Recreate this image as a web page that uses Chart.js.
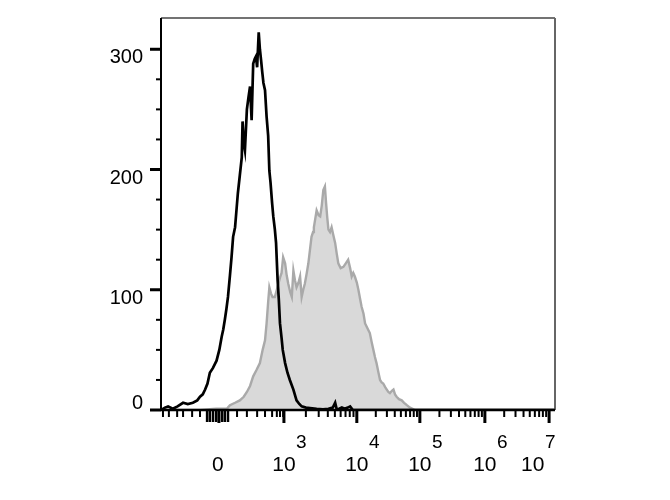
<!DOCTYPE html>
<html>
<head>
<meta charset="utf-8">
<script src="https://cdn.jsdelivr.net/npm/chart.js@4/dist/chart.umd.min.js"></script>
<style>
  body { margin: 0; background: #fff; }
  #wrap { width: 670px; height: 500px; }
</style>
</head>
<body>
<div id="wrap"><canvas id="histChart" width="670" height="500"></canvas></div>
<script>
// x is the display channel (0-1000) of the biexponential axis
const controlX = [0, 2, 10, 18, 30, 42, 56, 68, 81, 92, 99, 106, 112, 118, 124, 132, 141, 148, 154, 158, 162, 166, 170, 175, 179, 183, 188, 192, 195, 200, 205, 207, 210, 213, 218, 222, 226, 230, 234, 238, 241, 244, 248, 251, 254, 257, 260, 264, 268, 272, 275, 278, 282, 285, 289, 292, 296, 299, 302, 306, 309, 315, 321, 327, 336, 344, 351, 357, 368, 378, 395, 411, 425, 436, 442, 446, 452, 459, 466, 474, 480, 487, 520, 1000];
const controlY = [0, 0, 2, 3, 1, 3, 6, 5, 6, 8, 11, 13, 17, 22, 31, 35, 41, 50, 61, 67, 75, 84, 94, 112, 127, 144, 152, 168, 180, 195, 210, 240, 222, 216, 250, 260, 269, 241, 288, 292, 294, 285, 314, 300, 291, 281, 272, 266, 244, 228, 199, 189, 172, 161, 150, 139, 108, 92, 72, 60, 50, 39, 31, 25, 17, 8, 5, 3, 2, 1.6, 1, 0.6, 1, 2, 6, 0.5, 1, 2, 1, 2, 3, 0, 0, 0];

const stainedX = [0, 100, 140, 167, 175, 188, 200, 210, 218, 226, 234, 242, 251, 258, 264, 268, 272, 275, 279, 283, 289, 294, 298, 302, 306, 310, 315, 319, 323, 328, 332, 336, 340, 344, 349, 353, 357, 361, 365, 370, 374, 378, 382, 386, 388, 392, 395, 400, 404, 408, 412, 416, 419, 422, 425, 429, 433, 437, 442, 446, 450, 456, 463, 469, 475, 480, 484, 488, 492, 497, 501, 505, 509, 514, 518, 524, 530, 535, 539, 543, 547, 552, 556, 560, 564, 569, 573, 577, 581, 586, 590, 594, 598, 604, 611, 617, 624, 632, 645, 1000];
const stainedY = [0, 0, 1, 1, 4, 6, 8, 11, 15, 20, 28, 33, 39, 50, 58, 72, 90, 102, 97, 94, 94, 100, 105, 110, 114, 127, 122, 112, 105, 98, 94, 116, 108, 102, 106, 111, 94, 100, 105, 114, 122, 133, 144, 148, 152, 160, 166, 162, 161, 170, 183, 186, 172, 160, 150, 148, 152, 146, 139, 130, 122, 118, 119, 122, 125, 118, 111, 114, 111, 106, 100, 93, 86, 80, 72, 68, 64, 56, 50, 44, 39, 31, 25, 23, 22, 19, 17, 15, 14, 16, 17, 13, 11, 9, 8, 6, 4, 2, 0, 0];

const yMajorTicks = [0, 100, 200, 300];
const yMinorTicks = [25, 50, 75, 125, 150, 175, 225, 250, 275];
const yMax = 326;

const xDecadeTicks = [312, 497, 657, 822, 985];
const xDecadeLabels = ['3', '4', '5', '6', '7'];
const xZeroTick = 147;
const xZeroLabel = '0';
const xNegativeTicks = [5, 20, 41, 56, 79, 99];
const xNearZeroTicks = [117, 124, 132, 140, 155, 162, 170];
const xLinearTicks = [193, 218, 244, 264, 282, 294, 302, 310];

const FONT = '"Liberation Sans", Arial, Helvetica, sans-serif';

function toPoints(xs, ys) {
  return xs.map((x, i) => ({ x: x, y: ys[i] }));
}

function xMinorFromDecades() {
  const out = [];
  for (let i = 0; i < xDecadeTicks.length - 1; i++) {
    const a = xDecadeTicks[i], b = xDecadeTicks[i + 1];
    for (let k = 2; k <= 9; k++) out.push(a + Math.log10(k) * (b - a));
  }
  return out;
}

const axesPlugin = {
  id: 'cytoAxes',
  afterDraw(chart) {
    const ctx = chart.ctx;
    const area = chart.chartArea;
    const xs = chart.scales.x;
    const ys = chart.scales.y;
    ctx.save();

    // frame
    ctx.lineCap = 'butt';
    ctx.strokeStyle = '#444';
    ctx.lineWidth = 1.5;
    ctx.beginPath();
    ctx.moveTo(area.left, area.top);
    ctx.lineTo(area.right, area.top);
    ctx.stroke();
    ctx.strokeStyle = '#666';
    ctx.lineWidth = 2;
    ctx.beginPath();
    ctx.moveTo(area.right, area.top);
    ctx.lineTo(area.right, area.bottom);
    ctx.stroke();
    ctx.strokeStyle = '#000';
    ctx.lineWidth = 2;
    ctx.beginPath();
    ctx.moveTo(area.left, area.top);
    ctx.lineTo(area.left, area.bottom);
    ctx.stroke();
    ctx.lineWidth = 2.5;
    ctx.beginPath();
    ctx.moveTo(area.left, area.bottom);
    ctx.lineTo(area.right, area.bottom);
    ctx.stroke();

    // y ticks
    ctx.fillStyle = '#000';
    yMajorTicks.forEach(v => {
      const py = ys.getPixelForValue(v);
      ctx.fillRect(area.left - 11, py - 1.5, 11, 3);
    });
    yMinorTicks.forEach(v => {
      const py = ys.getPixelForValue(v);
      ctx.fillRect(area.left - 5, py - 1, 5, 2);
    });

    ctx.font = '20px ' + FONT;
    ctx.textAlign = 'right';
    ctx.textBaseline = 'alphabetic';
    yMajorTicks.forEach(v => {
      const py = ys.getPixelForValue(v);
      const base = Math.min(py + 14, area.bottom - 1.5);
      ctx.fillText(String(v), area.left - 18, base);
    });

    // x ticks
    const bottom = area.bottom + 1;
    const tick = (v, len, w) => {
      const px = xs.getPixelForValue(v);
      ctx.fillRect(px - w / 2, bottom, w, len);
    };
    xNegativeTicks.forEach(v => tick(v, 6, 2));
    xNearZeroTicks.forEach(v => tick(v, 11, 2.5));
    xLinearTicks.forEach(v => tick(v, 6, 2));
    xMinorFromDecades().forEach(v => tick(v, 6, 2));
    tick(xZeroTick, 12, 3);
    xDecadeTicks.forEach(v => tick(v, 12, 3));

    // x labels
    ctx.textAlign = 'left';
    const baseY = area.bottom + 61;
    const supY = area.bottom + 38;
    ctx.font = '21px ' + FONT;
    const zw = ctx.measureText(xZeroLabel).width;
    ctx.fillText(xZeroLabel, xs.getPixelForValue(xZeroTick) - zw / 2 - 1, baseY);
    xDecadeTicks.forEach((v, i) => {
      ctx.font = '21px ' + FONT;
      const bw = ctx.measureText('10').width;
      ctx.font = '19px ' + FONT;
      const sw = ctx.measureText(xDecadeLabels[i]).width;
      let left = xs.getPixelForValue(v) - bw / 2;
      if (left + bw + sw > area.right) left = area.right - bw - sw;
      ctx.font = '21px ' + FONT;
      ctx.fillText('10', left, baseY);
      ctx.font = '19px ' + FONT;
      ctx.fillText(xDecadeLabels[i], left + bw + 0.5, supY);
    });

    ctx.restore();
  }
};

window.onload = () => {
  const ctx = document.getElementById('histChart').getContext('2d');
  new Chart(ctx, {
    type: 'line',
    data: {
      datasets: [
        {
          label: 'Control',
          data: toPoints(controlX, controlY),
          borderColor: '#000',
          borderWidth: 2.7,
          fill: false,
          pointRadius: 0,
          tension: 0
        },
        {
          label: 'Stained',
          data: toPoints(stainedX, stainedY),
          borderColor: '#a9a9a9',
          backgroundColor: '#d9d9d9',
          borderWidth: 2.4,
          fill: 'origin',
          pointRadius: 0,
          tension: 0
        }
      ]
    },
    options: {
      responsive: false,
      animation: false,
      layout: { padding: { left: 161, right: 115, top: 18, bottom: 90 } },
      plugins: {
        legend: { display: false },
        tooltip: { enabled: false }
      },
      scales: {
        x: { type: 'linear', min: 0, max: 1000, display: false },
        y: { type: 'linear', min: 0, max: yMax, display: false }
      }
    },
    plugins: [axesPlugin]
  });
};
</script>
</body>
</html>
